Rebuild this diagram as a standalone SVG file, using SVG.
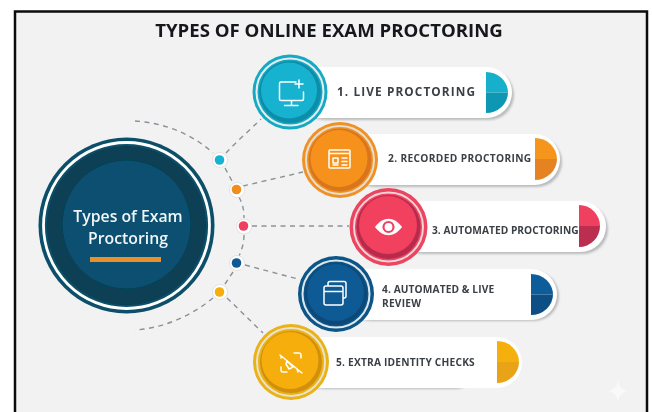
<svg xmlns="http://www.w3.org/2000/svg" width="652" height="412" viewBox="0 0 652 412">
<defs>
<style>
.t{font-family:"Open Sans","Liberation Sans",sans-serif;font-weight:700}
.lab{font-size:10.200px;fill:#3a3f45;letter-spacing:.2px}
.pill{fill:#fff}
.sh{fill:#b9bcbe}
.dash{fill:none;stroke:#8b9298;stroke-width:1.4;stroke-dasharray:5 4.5}
.ic{fill:none;stroke:#fff;stroke-width:1.5;stroke-linecap:round;stroke-linejoin:round}
.halo{fill:#fff;stroke:#dcdcdc;stroke-width:.8}
</style>
<filter id="soft" x="-5%" y="-5%" width="110%" height="110%"><feGaussianBlur stdDeviation=".45"/></filter>
<filter id="sb" x="-10%" y="-30%" width="120%" height="160%"><feGaussianBlur stdDeviation="1"/></filter>
</defs>
<rect width="652" height="412" fill="#fff"/>
<rect x="15" y="11.500" width="632" height="402" fill="#f2f2f3" stroke="#0c0c0c" stroke-width="2.500"/>
<text class="t" x="329" y="37" text-anchor="middle" font-size="18.600" fill="#16191c" filter="url(#soft)">TYPES OF ONLINE EXAM PROCTORING</text>

<g id="connectors" filter="url(#soft)">
<path class="dash" d="M135 121C165 123 192 134 213 153"/>
<path class="dash" d="M226 153C236 142 250 130 261 119"/>
<path class="dash" d="M225 168L232 181"/>
<path class="dash" d="M243 186L303 172"/>
<path class="dash" d="M239 197C243 205 244 210 244 218"/>
<path class="dash" d="M252 226H349"/>
<path class="dash" d="M244 235C244 243 242 249 239 256"/>
<path class="dash" d="M245 265L298 279"/>
<path class="dash" d="M233 272L225 284"/>
<path class="dash" d="M213 298C192 315 165 328 135 330"/>
<path class="dash" d="M227 298L263 333"/>
</g>

<g id="dots" filter="url(#soft)">
<circle class="halo" cx="220" cy="160" r="7.500"/><circle cx="219.500" cy="160" r="4.800" fill="#17b3d1"/>
<circle class="halo" cx="237" cy="190" r="7.500"/><circle cx="236.500" cy="189.500" r="4.800" fill="#f28c1e"/>
<circle class="halo" cx="244" cy="226.500" r="7.500"/><circle cx="243.500" cy="226" r="4.800" fill="#ee3f5e"/>
<circle class="halo" cx="237" cy="263" r="7.500"/><circle cx="236.500" cy="263" r="4.800" fill="#0f5a94"/>
<circle class="halo" cx="220" cy="292" r="7.500"/><circle cx="219.500" cy="292" r="4.800" fill="#f5ae0c"/>
</g>

<g id="center" filter="url(#soft)">
<circle cx="126.500" cy="225.500" r="88" fill="#0b5069"/>
<circle cx="126.500" cy="225.500" r="83" fill="none" stroke="#fff" stroke-width="2.800"/>
<circle cx="126.500" cy="225.500" r="79.500" fill="#073f55"/>
<circle cx="126.500" cy="224.500" r="64" fill="#07506f"/>
<text class="t" x="128" y="222" text-anchor="middle" font-size="15.800" fill="#f1f5f7" style="font-weight:600">Types of Exam</text>
<text class="t" x="128" y="244" text-anchor="middle" font-size="15.800" fill="#f1f5f7" style="font-weight:600">Proctoring</text>
<rect x="90" y="257" width="71" height="5" fill="#e8912a"/>
</g>

<g id="node1" filter="url(#soft)">
<rect class="sh" x="300" y="70" width="214" height="50" rx="25" filter="url(#sb)"/>
<rect class="pill" x="290" y="67" width="222" height="51" rx="25.500"/>
<path d="M486 72A22 20.500 0 0 1 508 92.500H486Z" fill="#16b0cc"/>
<path d="M486 113A22 20.500 0 0 0 508 92.500H486Z" fill="#0e97b3"/>
<circle cx="290" cy="92" r="37.500" fill="#17a9c4"/>
<circle cx="290" cy="92" r="33.500" fill="none" stroke="#e4eef0" stroke-width="2"/>
<circle cx="290" cy="92" r="31" fill="#0f8ea8"/>
<circle cx="289" cy="90.500" r="28" fill="#14b2d0"/>
<path class="ic" d="M296 82H281a1.500 1.500 0 0 0-1.500 1.500V99a1.500 1.500 0 0 0 1.500 1.500H302a1.500 1.500 0 0 0 1.500-1.500V92M291.500 101V105M284.500 105.500H298M299 80V88M295 84H303"/>
<text class="t lab" x="337" y="95.500" style="font-size:11.800px;letter-spacing:1.1px">1. LIVE PROCTORING</text>
</g>

<g id="node2" filter="url(#soft)">
<rect class="sh" x="350" y="137" width="212" height="50" rx="25" filter="url(#sb)"/>
<rect class="pill" x="340" y="134" width="220" height="51" rx="25.500"/>
<path d="M535 138A22 21 0 0 1 557 159H535Z" fill="#f6951f"/>
<path d="M535 180A22 21 0 0 0 557 159H535Z" fill="#e58320"/>
<circle cx="340" cy="160" r="38" fill="#ee9228"/>
<circle cx="340" cy="160" r="34" fill="none" stroke="#e9ddcf" stroke-width="2"/>
<circle cx="340" cy="160" r="31.500" fill="#d9761a"/>
<circle cx="339" cy="158.500" r="28.500" fill="#f6921f"/>
<path class="ic" d="M330 150H349a1 1 0 0 1 1 1V167a1 1 0 0 1-1 1H330a1 1 0 0 1-1-1V151a1 1 0 0 1 1-1ZM329 153.500H350M333 158H338V163H333ZM333 165H338M342 158H347M342 161.500H347M342 165H347"/>
<text class="t lab" x="388" y="161.500" style="letter-spacing:.34px">2. RECORDED PROCTORING</text>
</g>

<g id="node3" filter="url(#soft)">
<rect class="sh" x="398" y="204" width="210" height="50" rx="25" filter="url(#sb)"/>
<rect class="pill" x="388" y="201" width="218" height="51" rx="25.500"/>
<path d="M579 205A21 21 0 0 1 600 226H579Z" fill="#f03f60"/>
<path d="M579 247A21 21 0 0 0 600 226H579Z" fill="#bc2f50"/>
<circle cx="388.500" cy="227" r="39" fill="#ec4560"/>
<circle cx="388.500" cy="227" r="34.500" fill="none" stroke="#f3d5da" stroke-width="2"/>
<circle cx="388.500" cy="227" r="32" fill="#b82c4c"/>
<circle cx="388" cy="225" r="29" fill="#f23f5f"/>
<path d="M375 227C383 216 394 216 402 227C394 238 383 238 375 227Z" fill="#fff"/>
<circle cx="388.500" cy="227" r="5" fill="none" stroke="#ef4060" stroke-width="2.200"/>
<text class="t lab" x="432" y="233.500" style="letter-spacing:.03px">3. AUTOMATED PROCTORING</text>
</g>

<g id="node4" filter="url(#soft)">
<rect class="sh" x="346" y="271" width="213" height="50" rx="25" filter="url(#sb)"/>
<rect class="pill" x="336" y="269" width="221" height="51" rx="25.500"/>
<path d="M531 274A22 20.500 0 0 1 553 294.500H531Z" fill="#0f5d9a"/>
<path d="M531 315A22 20.500 0 0 0 553 294.500H531Z" fill="#0b4f85"/>
<circle cx="336" cy="294" r="38" fill="#0e5586"/>
<circle cx="336" cy="294" r="33.500" fill="none" stroke="#dbe8f0" stroke-width="2"/>
<circle cx="336" cy="294" r="31" fill="#0c4a78"/>
<circle cx="335.500" cy="292.500" r="28.500" fill="#0f5a94"/>
<path class="ic" d="M324 295V288a2 2 0 0 1 2-2H341a2 2 0 0 1 2 2V303a2 2 0 0 1-2 2H326a2 2 0 0 1-2-2ZM324 291.500H343M328 285.500V283.500a2 2 0 0 1 2-2H344a2 2 0 0 1 2 2V296a2 2 0 0 1-2 2H343"/>
<text class="t lab" x="382" y="293" style="letter-spacing:.1px">4. AUTOMATED &amp; LIVE</text>
<text class="t lab" x="382" y="306.500">REVIEW</text>
</g>

<g id="node5" filter="url(#soft)">
<rect class="sh" x="300" y="339" width="180" height="50" rx="25" filter="url(#sb)"/>
<rect class="pill" x="291" y="337" width="231" height="51" rx="25.500"/>
<path d="M497 341A22 21 0 0 1 519 362H497Z" fill="#f6b008"/>
<path d="M497 383A22 21 0 0 0 519 362H497Z" fill="#e8a414"/>
<circle cx="291" cy="362" r="38" fill="#eab214"/>
<circle cx="291" cy="362" r="34" fill="none" stroke="#e9e2cd" stroke-width="2"/>
<circle cx="291" cy="362" r="31" fill="#d18f0c"/>
<circle cx="290" cy="360.500" r="28.500" fill="#f6ae07"/>
<path class="ic" d="M280 355L302 373M294 353H298.500A2 2 0 0 1 301 355V358M281 367V370A2 2 0 0 0 283 372H287M281 358V356M297 369L298 372M287 361L293 367L289 369L286 364Z"/>
<text class="t lab" x="336" y="366">5. EXTRA IDENTITY CHECKS</text>
</g>

<path id="sparkle" d="M618 379C619 387 621 389 628 391C621 393 619 395 618 403C617 395 615 393 608 391C615 389 617 387 618 379Z" fill="#f9f9f9"/>
</svg>
